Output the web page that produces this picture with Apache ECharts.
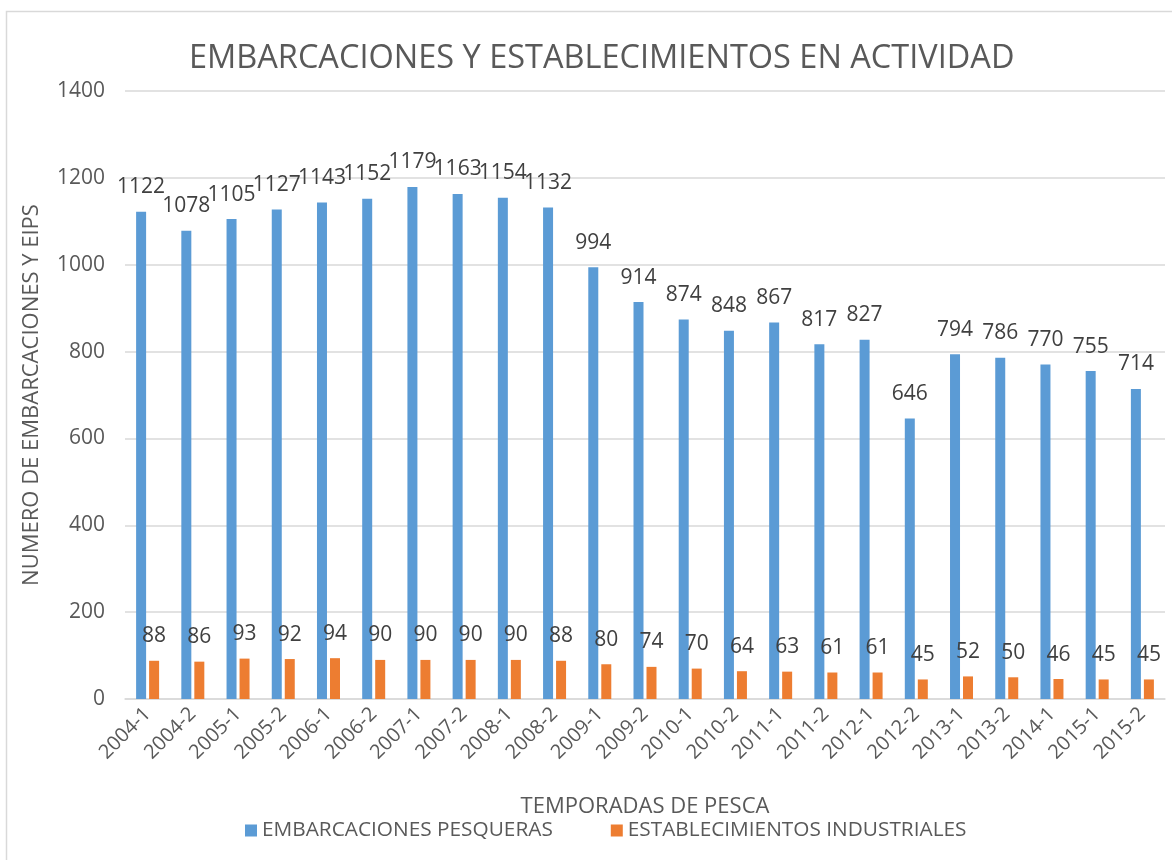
<!DOCTYPE html>
<html><head><meta charset="utf-8">
<script src="https://cdn.jsdelivr.net/npm/echarts@6/dist/echarts.min.js"></script>
<style>html,body{margin:0;padding:0;background:#fff}#c{width:1172px;height:860px}</style>
</head><body><div id="c"></div>
<script>
const categories = ['2004-1','2004-2','2005-1','2005-2','2006-1','2006-2','2007-1','2007-2','2008-1','2008-2','2009-1','2009-2','2010-1','2010-2','2011-1','2011-2','2012-1','2012-2','2013-1','2013-2','2014-1','2015-1','2015-2'];
const embarcaciones = [1122,1078,1105,1127,1143,1152,1179,1163,1154,1132,994,914,874,848,867,817,827,646,794,786,770,755,714];
const establecimientos = [88,86,93,92,94,90,90,90,90,88,80,74,70,64,63,61,61,45,52,50,46,45,45];
const yTicks = [0,200,400,600,800,1000,1200,1400];

const FONT = 'Open Sans';
const chart = echarts.init(document.getElementById('c'));
const labelStyle = {show:true, position:'top', distance:14, color:'#404040', fontSize:21, fontFamily:FONT};
chart.setOption({
  animation:false,
  textStyle:{fontFamily:FONT},
  graphic:[{type:'rect', shape:{x:6.5,y:11.5,width:1200,height:900}, style:{fill:'none', stroke:'#d9d9d9', lineWidth:1.5}, silent:true}],
  title:{text:'EMBARCACIONES Y ESTABLECIMIENTOS EN ACTIVIDAD', left:184, top:37,
    textStyle:{fontSize:32.5, fontWeight:'normal', color:'#595959', fontFamily:FONT}},
  legend:{bottom:14, left:240, itemWidth:12, itemHeight:12, itemGap:58, icon:'rect',
    textStyle:{fontSize:20.8, color:'#595959', fontFamily:FONT}},
  grid:{left:125, right:7, top:91, bottom:161},
  xAxis:{type:'category', data:categories, name:'TEMPORADAS DE PESCA', nameLocation:'middle', nameGap:97,
    nameTextStyle:{fontSize:22, color:'#595959', fontFamily:FONT},
    axisLine:{lineStyle:{color:'#d9d9d9', width:1.5}}, axisTick:{show:false},
    axisLabel:{rotate:45, fontSize:20, color:'#595959', margin:12, interval:0, fontFamily:FONT}},
  yAxis:{type:'value', min:0, max:1400, interval:200, name:'NUMERO DE EMBARCACIONES Y EIPS', nameLocation:'middle', nameGap:82,
    nameTextStyle:{fontSize:22, color:'#595959', fontFamily:FONT},
    axisLine:{show:false}, axisTick:{show:false},
    splitLine:{lineStyle:{color:'#d9d9d9', width:1.5}},
    axisLabel:{fontSize:21, color:'#595959', margin:20, fontFamily:FONT,
      formatter:v=> yTicks.includes(v) ? String(v) : ''}},
  series:[
    {name:'EMBARCACIONES PESQUERAS', type:'bar', data:embarcaciones, barWidth:10, barGap:'30%',
     itemStyle:{color:'#5B9BD5'}, label:labelStyle},
    {name:'ESTABLECIMIENTOS INDUSTRIALES', type:'bar', data:establecimientos, barWidth:10,
     itemStyle:{color:'#ED7D31'}, label:labelStyle}
  ]
});
</script></body></html>
